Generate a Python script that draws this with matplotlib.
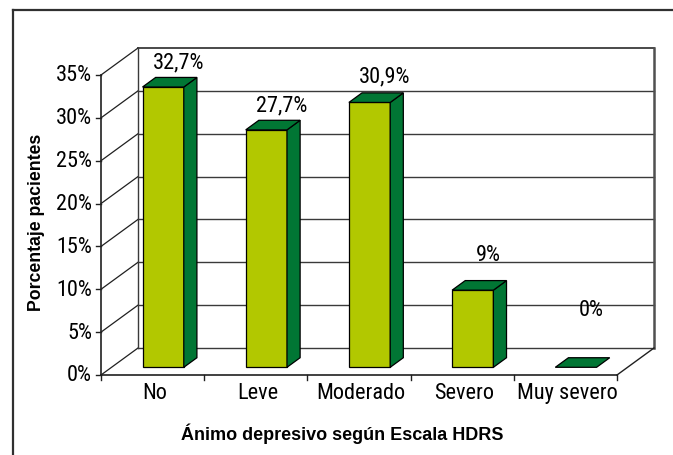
import matplotlib
matplotlib.use("Agg")
import matplotlib.pyplot as plt
from matplotlib.patches import Polygon
from matplotlib.lines import Line2D

categories = ["No", "Leve", "Moderado", "Severo", "Muy severo"]
values = [32.7, 27.7, 30.9, 9.0, 0.0]
value_labels = ["32,7%", "27,7%", "30,9%", "9%", "0%"]
y_ticks = [0, 5, 10, 15, 20, 25, 30, 35]
y_tick_labels = ["0%", "5%", "10%", "15%", "20%", "25%", "30%", "35%"]
x_title = "Ánimo depresivo según Escala HDRS"
y_title = "Porcentaje pacientes"

# label lift above bar top (data units), as placed in the original
label_lift = [3.8, 3.8, 4.0, 5.0, 7.6]

plt.rcParams['font.family'] = ['Roboto Condensed', 'DejaVu Sans']
title_font = ['Liberation Sans', 'DejaVu Sans']

W, H = 673, 456
fig = plt.figure(figsize=(W / 100, H / 100), dpi=100)

# 3D depth (in data units)
ncat = len(categories)
ymax = 35
px_per_cat = 103.2
px_per_pct = 300 / 35
DX = 37 / px_per_cat
DY = 27 / px_per_pct

left_px, right_px, bot_px, top_px = 101, 101 + ncat * px_per_cat + 37, 376, 376 - (ymax + DY) * px_per_pct
ax = fig.add_axes([left_px / W, (H - bot_px) / H, (right_px - left_px) / W, (bot_px - top_px) / H])
ax.set_xlim(0, ncat + DX)
ax.set_ylim(0, ymax + DY)
ax.axis('off')

gcol = '#3a3a3a'
# back wall gridlines
for t in y_ticks:
    lw = 1.3 if t == ymax else 1.0
    ax.plot([DX, ncat + DX], [t + DY, t + DY], color=gcol, lw=lw, clip_on=False, zorder=1)
    # side wall diagonals
    ax.plot([0, DX], [t, t + DY], color='#202020', lw=0.9, clip_on=False, zorder=1)
# back wall verticals
ax.plot([DX, DX], [DY, ymax + DY], color=gcol, lw=1.0, clip_on=False, zorder=1)
ax.plot([ncat + DX, ncat + DX], [DY, ymax + DY], color='#505050', lw=1.8, clip_on=False, zorder=1)
# floor
ax.plot([0, ncat], [0, 0], color='#202020', lw=1.2, clip_on=False, zorder=2)
ax.plot([ncat, ncat + DX], [0, DY], color='#202020', lw=1.0, clip_on=False, zorder=2)
# front y axis
ax.plot([0, 0], [0, ymax], color='#202020', lw=1.2, clip_on=False, zorder=2)
tick_dx = 5 / px_per_cat
for t, lab in zip(y_ticks, y_tick_labels):
    ax.plot([-tick_dx, 0], [t, t], color='#202020', lw=1.0, clip_on=False, zorder=2)
    ax.text(-9 / px_per_cat, t, lab, ha='right', va='center', fontsize=16, color='black')
# x ticks
tick_dy = 5 / px_per_pct
for i in range(ncat + 1):
    ax.plot([i, i], [0, -tick_dy], color='#202020', lw=1.0, clip_on=False, zorder=2)
for i, c in enumerate(categories):
    ax.text(i + 0.52, -18 / px_per_pct, c, ha='center', va='center', fontsize=16)

# bars
f0, f1 = 0.285, 0.64
bw = 0.4
front_col = '#b2c800'
dark_col = '#017634'
for i, v in enumerate(values):
    x0 = i + 0.5 - bw / 2 + f0 * DX
    x1 = x0 + bw
    y0 = f0 * DY
    y1 = v + f0 * DY
    ddx = (f1 - f0) * DX
    ddy = (f1 - f0) * DY
    if v > 0:
        ax.add_patch(Polygon([(x0, y0), (x1, y0), (x1, y1), (x0, y1)], closed=True,
                             facecolor=front_col, edgecolor='black', lw=0.9, zorder=5))
        ax.add_patch(Polygon([(x1, y0), (x1 + ddx, y0 + ddy), (x1 + ddx, y1 + ddy), (x1, y1)], closed=True,
                             facecolor=dark_col, edgecolor='black', lw=0.9, zorder=5))
    ax.add_patch(Polygon([(x0, y1), (x1, y1), (x1 + ddx, y1 + ddy), (x0 + ddx, y1 + ddy)], closed=True,
                         facecolor=dark_col, edgecolor='black', lw=0.9, zorder=5))
    ax.text(i + 0.5 + 0.7 * DX, v + label_lift[i], value_labels[i], ha='center', va='center',
            fontsize=16, zorder=6)

# axis titles
fig.text(342 / W, 1 - 434 / H, x_title, ha='center', va='center', fontsize=13, fontweight='bold',
         family=title_font)
fig.text(37 / W, 1 - 222 / H, y_title, ha='center', va='center', rotation=90, fontsize=12.7,
         fontweight='bold', family=title_font)

# outer frame (right and bottom edges lie outside the image)
fig.add_artist(Line2D([13 / W, 13 / W], [0, 1 - 11 / H], color='#303030', lw=1.6))
fig.add_artist(Line2D([13 / W, 1], [1 - 11 / H, 1 - 11 / H], color='#303030', lw=1.6))

fig.savefig("out.png", dpi=100)
